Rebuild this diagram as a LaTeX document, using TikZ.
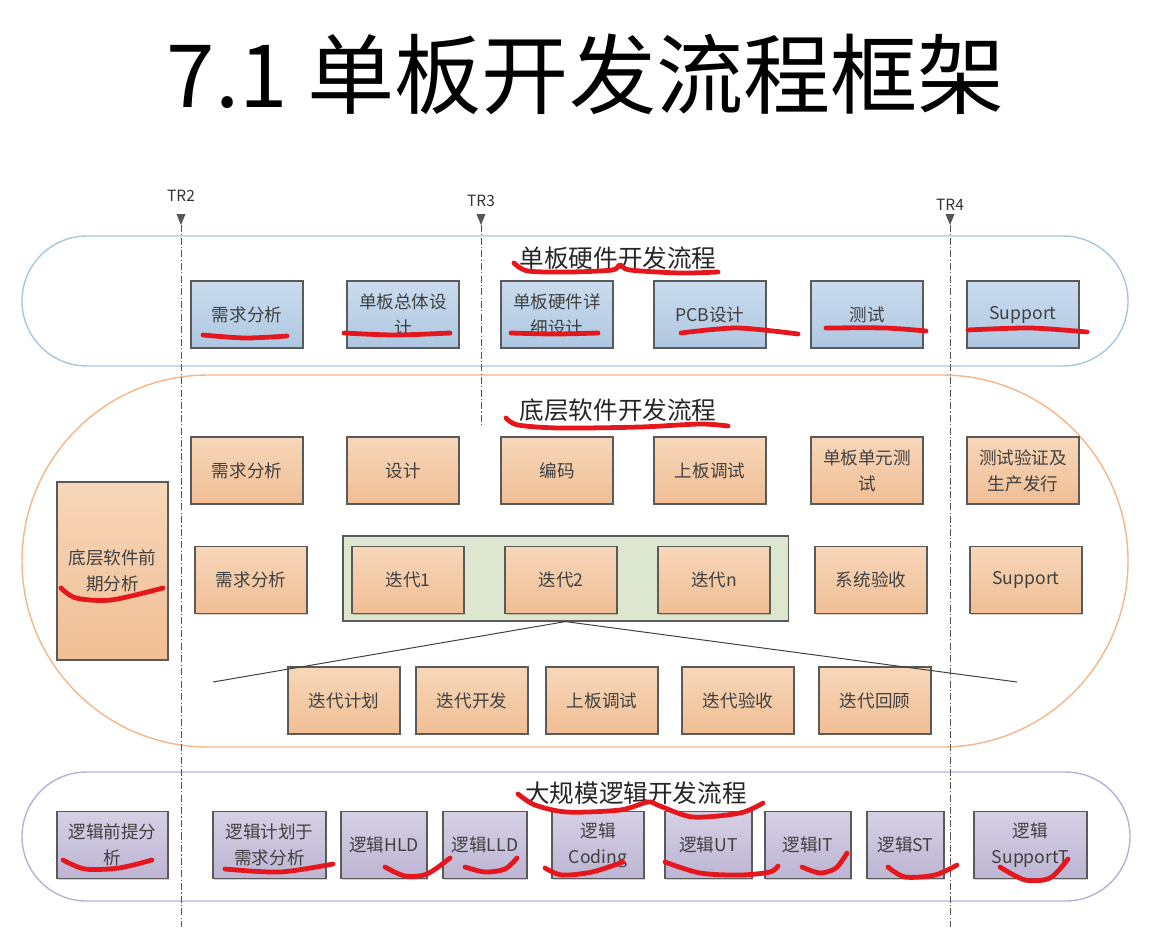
\documentclass[tikz,border=0pt]{standalone}
\usepackage{fontspec}
\setmainfont{Noto Sans CJK SC}
\usepackage{xcolor}
\usetikzlibrary{shadows}

\definecolor{hwTop}{HTML}{CADCEE}
\definecolor{hwBottom}{HTML}{AEC7E1}
\definecolor{swTop}{HTML}{F7D7BA}
\definecolor{swBottom}{HTML}{F0BE94}
\definecolor{lgTop}{HTML}{D5D0E4}
\definecolor{lgBottom}{HTML}{BDB5D3}
\definecolor{boxLine}{HTML}{5A5A5A}
\definecolor{boxText}{HTML}{404040}
\definecolor{hwLane}{HTML}{A9C5E2}
\definecolor{swLane}{HTML}{F5B68A}
\definecolor{lgLane}{HTML}{B7B0D8}
\definecolor{iterFill}{HTML}{DDE6CE}
\definecolor{trGray}{HTML}{555555}
\definecolor{markRed}{HTML}{E5171D}

\begin{document}
\begin{tikzpicture}[
        x=0.025cm, y=-0.025cm,
        font=\fontsize{12.5}{18.5}\selectfont,
        % boxes
        basebox/.style={
            rectangle, draw=boxLine, line width=0.8pt,
            minimum width=2.8cm, minimum height=1.675cm,
            inner sep=2pt, align=center, text=boxText,
            drop shadow={shadow xshift=1pt, shadow yshift=-1pt, fill=black, opacity=0.18}
        },
        hwbox/.style={basebox, top color=hwTop, bottom color=hwBottom},
        swbox/.style={basebox, top color=swTop, bottom color=swBottom},
        lgbox/.style={basebox, top color=lgTop, bottom color=lgBottom},
        lanetitle/.style={font=\fontsize{17.5}{20}\selectfont, text=black!85},
        trlabel/.style={font=\fontsize{11}{13}\selectfont, text=black!80},
        trline/.style={draw=trGray, line width=0.7pt, dash pattern=on 5pt off 1.6pt on 0.8pt off 1.6pt},
        scribble/.style={draw=markRed, line width=3.4pt, line cap=round, line join=round}
    ]

    \useasboundingbox (0,0) rectangle (1156,949);

    % ==========================
    % TITLE
    % ==========================
    \node[font=\fontsize{62}{70}\selectfont] (mainTitle) at (586,74) {7.1 单板开发流程框架};

    % ==========================
    % LANES (BACKGROUND)
    % ==========================
    \draw[hwLane, line width=1pt, rounded corners=1.625cm] (22,236) rectangle (1128,366);
    \draw[swLane, line width=1pt, rounded corners=4.65cm] (22,375) rectangle (1128,747);
    \draw[lgLane, line width=1pt, rounded corners=1.61cm] (22,772) rectangle (1130,901);

    % ==========================
    % TR MILESTONES
    % ==========================
    \node[trlabel] (tr2) at (181,196) {TR2};
    \node[trlabel] (tr3) at (481,201) {TR3};
    \node[trlabel] (tr4) at (950,205) {TR4};

    \coordinate (tr2Top) at (181,225);
    \coordinate (tr2Bot) at (181,927);
    \coordinate (tr3Top) at (481,225);
    \coordinate (tr3Bot) at (481,427);
    \coordinate (tr4Top) at (950,225);
    \coordinate (tr4Bot) at (950,927);

    \fill[trGray] (176.5,214) -- (185.5,214) -- (tr2Top) -- cycle;
    \fill[trGray] (476.5,214) -- (485.5,214) -- (tr3Top) -- cycle;
    \fill[trGray] (945.5,214) -- (954.5,214) -- (tr4Top) -- cycle;

    \draw[trline] (tr2Top) -- (tr2Bot);
    \draw[trline] (tr3Top) -- (tr3Bot);
    \draw[trline] (tr4Top) -- (tr4Bot);

    % ==========================
    % HARDWARE LANE
    % ==========================
    \node[lanetitle] (hwTitle) at (618,258) {单板硬件开发流程};

    \node[hwbox] (hwReq)     at (247,314.5)  {需求分析};
    \node[hwbox] (hwArch)    at (403,314.5)  {单板总体设\\计};
    \node[hwbox] (hwDetail)  at (557,314.5)  {单板硬件详\\细设计};
    \node[hwbox] (hwPcb)     at (710,314.5)  {PCB设计};
    \node[hwbox] (hwTest)    at (867,314.5)  {测试};
    \node[hwbox] (hwSupport) at (1023,314.5) {Support};

    % ==========================
    % SOFTWARE LANE
    % ==========================
    \node[lanetitle] (swTitle) at (618,410) {底层软件开发流程};

    \node[swbox] (swReq)     at (247,470.5)  {需求分析};
    \node[swbox] (swDesign)  at (403,470.5)  {设计};
    \node[swbox] (swCode)    at (557,470.5)  {编码};
    \node[swbox] (swDebug)   at (710,470.5)  {上板调试};
    \node[swbox] (swUnit)    at (867,470.5)  {单板单元测\\试};
    \node[swbox] (swRelease) at (1023,470.5) {测试验证及\\生产发行};

    \node[swbox, minimum width=2.775cm, minimum height=4.45cm] (swPre) at (112.5,571) {底层软件前\\期分析};
    \node[swbox] (swReq2) at (251,580) {需求分析};

    % iteration group
    \node[rectangle, draw=boxLine, line width=0.8pt, fill=iterFill,
          minimum width=11.125cm, minimum height=2.125cm,
          drop shadow={shadow xshift=1pt, shadow yshift=-1pt, fill=black, opacity=0.18}] (iterGroup) at (565.5,578.5) {};
    \node[swbox] (iter1) at (408,580) {迭代1};
    \node[swbox] (iter2) at (561,580) {迭代2};
    \node[swbox] (iterN) at (714,580) {迭代n};

    \node[swbox] (swAccept)  at (871,580)  {系统验收};
    \node[swbox] (swSupport) at (1026,580) {Support};

    \node[swbox] (iterPlan)   at (344,700.5) {迭代计划};
    \node[swbox] (iterDev)    at (472,700.5) {迭代开发};
    \node[swbox] (iterDebug)  at (602,700.5) {上板调试};
    \node[swbox] (iterCheck)  at (738,700.5) {迭代验收};
    \node[swbox] (iterReview) at (875,700.5) {迭代回顾};

    % fan-out under the iteration group
    \coordinate (fanLeft)  at (213,682);
    \coordinate (fanRight) at (1017,682);
    \draw[black!75, line width=0.7pt] (fanLeft) -- (iterGroup.south) -- (fanRight);

    % ==========================
    % LOGIC LANE
    % ==========================
    \node[lanetitle] (lgTitle) at (636,793) {大规模逻辑开发流程};

    \node[lgbox, minimum width=2.775cm] (lgPre)     at (112.5,845) {逻辑前提分\\析};
    \node[lgbox, minimum width=2.825cm] (lgPlan)    at (269.5,845) {逻辑计划于\\需求分析};
    \node[lgbox, minimum width=2.15cm]  (lgHld)     at (384,845)   {逻辑HLD};
    \node[lgbox, minimum width=2.1cm]   (lgLld)     at (485,845)   {逻辑LLD};
    \node[lgbox, minimum width=2.3cm]   (lgCoding)  at (598,845)   {逻辑\\Coding};
    \node[lgbox, minimum width=2.175cm] (lgUt)      at (708.5,845) {逻辑UT};
    \node[lgbox, minimum width=2.15cm]  (lgIt)      at (808,845)   {逻辑IT};
    \node[lgbox, minimum width=1.925cm] (lgSt)      at (905.5,845) {逻辑ST};
    \node[lgbox, minimum width=2.825cm] (lgSupport) at (1030.5,845) {逻辑\\SupportT};

    % ==========================
    % RED MARKS
    % ==========================
    \draw[scribble] plot[smooth] coordinates {(514,263) (528,271) (570,272) (612,270) (620,265) (630,270) (680,273) (718,272)};
    \draw[scribble] plot[smooth] coordinates {(203,335) (245,338) (287,336)};
    \draw[scribble] plot[smooth] coordinates {(344,333) (395,335) (450,333)};
    \draw[scribble] plot[smooth] coordinates {(511,333) (555,334) (598,333)};
    \draw[scribble] plot[smooth] coordinates {(681,333) (737,328) (798,334)};
    \draw[scribble] plot[smooth] coordinates {(826,328) (885,328) (926,331)};
    \draw[scribble] plot[smooth] coordinates {(968,330) (1030,328) (1087,332)};

    \draw[scribble] plot[smooth] coordinates {(506,418) (518,425) (560,428) (640,427) (700,424) (728,426)};
    \draw[scribble] plot[smooth] coordinates {(61,588) (76,598) (111,600) (163,588)};

    \draw[scribble] plot[smooth] coordinates {(518,794) (535,805) (567,812) (620,810) (648,802) (660,806) (693,817) (740,813) (763,803)};
    \draw[scribble] plot[smooth] coordinates {(63,860) (85,869) (119,868) (152,860)};
    \draw[scribble] plot[smooth] coordinates {(225,869) (280,872) (333,864)};
    \draw[scribble] plot[smooth] coordinates {(385,867) (405,876) (427,874) (450,858)};
    \draw[scribble] plot[smooth] coordinates {(465,867) (485,872) (505,869) (517,858)};
    \draw[scribble] plot[smooth] coordinates {(545,868) (562,875) (592,872) (623,862)};
    \draw[scribble] plot[smooth] coordinates {(665,862) (700,873) (740,875) (770,872) (778,866)};
    \draw[scribble] plot[smooth] coordinates {(802,867) (820,873) (836,868) (847,853)};
    \draw[scribble] plot[smooth] coordinates {(888,867) (905,877) (935,875) (957,865)};
    \draw[scribble] plot[smooth] coordinates {(1000,867) (1025,880) (1050,878) (1068,859)};

\end{tikzpicture}
\end{document}
